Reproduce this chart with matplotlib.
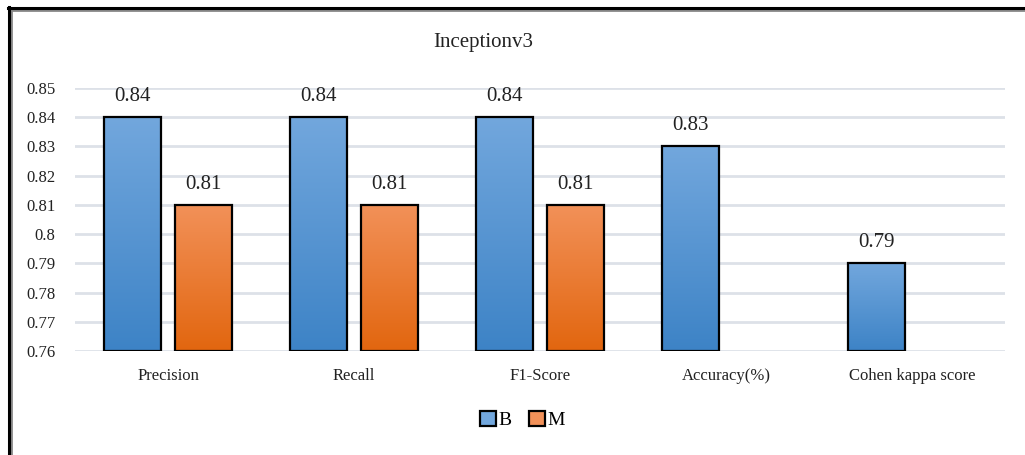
import numpy as np
import matplotlib
matplotlib.use("Agg")
import matplotlib.pyplot as plt
from matplotlib.colors import LinearSegmentedColormap
from matplotlib.patches import Patch
from matplotlib.lines import Line2D

plt.rcParams["font.family"] = ["Liberation Serif", "DejaVu Serif"]

# Inceptionv3 scores per metric, classes B and M
metrics = ["Precision", "Recall", "F1-Score", "Accuracy(%)", "Cohen kappa score"]
scores_b = [0.84, 0.84, 0.84, 0.83, 0.79]
scores_m = [0.81, 0.81, 0.81, np.nan, np.nan]
series_names = ["B", "M"]

y_ticks = np.round(np.arange(0.76, 0.851, 0.01), 2)

BLUE_TOP, BLUE_BOT = "#72A7DD", "#3D83C6"
ORANGE_TOP, ORANGE_BOT = "#F29159", "#E2660F"


def gradient_bars(ax, bars, top, bottom):
    cmap = LinearSegmentedColormap.from_list("g", [bottom, top])
    grad = np.linspace(0, 1, 256).reshape(-1, 1)
    for b in bars:
        if np.isnan(b.get_height()):
            continue
        x0, y0 = b.get_x(), b.get_y()
        x1, y1 = x0 + b.get_width(), y0 + b.get_height()
        im = ax.imshow(grad, cmap=cmap, origin="lower", aspect="auto",
                       extent=[x0, x1, y0, y1], zorder=2)
        im.set_clip_path(b)


fig = plt.figure(figsize=(10.25, 4.55), dpi=100)
ax = fig.add_axes([75 / 1025, 104 / 455, 930 / 1025, 263 / 455])

x = np.arange(len(metrics))
width = 0.31
offset = 0.19
base = 0.76

bars_b = ax.bar(x - offset, np.array(scores_b) - base, width, bottom=base,
                facecolor="none", edgecolor="black", linewidth=1.6, zorder=3)
bars_m = ax.bar(x + offset, np.array(scores_m) - base, width, bottom=base,
                facecolor="none", edgecolor="black", linewidth=1.6, zorder=3)
gradient_bars(ax, bars_b, BLUE_TOP, BLUE_BOT)
gradient_bars(ax, bars_m, ORANGE_TOP, ORANGE_BOT)

for xs, vals in [(x - offset, scores_b), (x + offset, scores_m)]:
    for xi, v in zip(xs, vals):
        if np.isnan(v):
            continue
        ax.annotate(f"{v:g}", (xi, v), xytext=(0, 8), textcoords="offset points",
                    ha="center", va="bottom", fontsize=15, color="#222222")

ax.set_xlim(-0.5, len(metrics) - 0.5)
ax.set_ylim(0.76, 0.85)
ax.set_yticks(y_ticks)
ax.set_yticklabels([f"{t:g}" for t in y_ticks], fontsize=12)
ax.set_xticks(x)
ax.set_xticklabels(metrics, fontsize=12)
ax.tick_params(length=0, pad=12, colors="#222222")
ax.tick_params(axis="y", pad=14)
ax.grid(axis="y", color="#DDE1E8", linewidth=2)
ax.set_axisbelow(True)
for s in ax.spines.values():
    s.set_visible(False)

fig.text(483 / 1025, 1 - 43 / 455, "Inceptionv3", ha="center", va="center",
         fontsize=15, color="#222222")

handles = [Patch(facecolor=BLUE_TOP, edgecolor="black", linewidth=1.6),
           Patch(facecolor=ORANGE_TOP, edgecolor="black", linewidth=1.6)]
fig.legend(handles, series_names, loc="center", bbox_to_anchor=(0.51, 1 - 420 / 455),
           ncol=2, frameon=False, fontsize=14, handlelength=0.8, handleheight=0.8,
           handletextpad=0.15, columnspacing=0.9)

# chart frame: top and left edges with a soft grey shadow
fig.add_artist(Line2D([9 / 1025, 1.0], [1 - 10 / 455] * 2, color="#888888", lw=2,
                      transform=fig.transFigure))
fig.add_artist(Line2D([11 / 1025] * 2, [0.0, 1 - 8 / 455], color="#888888", lw=2,
                      transform=fig.transFigure))
fig.add_artist(Line2D([8 / 1025, 1.0], [1 - 8 / 455] * 2, color="black", lw=2.2,
                      transform=fig.transFigure))
fig.add_artist(Line2D([9 / 1025] * 2, [0.0, 1 - 7 / 455], color="black", lw=2.2,
                      transform=fig.transFigure))

fig.savefig("out.png", dpi=100)
